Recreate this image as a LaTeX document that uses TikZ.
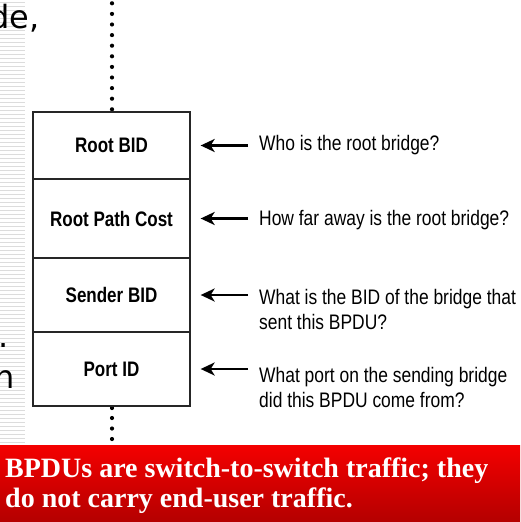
\documentclass[tikz,border=0pt]{standalone}
\usepackage{fontspec}
\setmainfont{Liberation Sans}
\newfontfamily\cellfont[FakeStretch=0.81]{Liberation Sans}
\newfontfamily\notefont[FakeStretch=0.83]{Liberation Sans}
\newfontfamily\bannerfont{Liberation Serif}
\newfontfamily\slidefont{DejaVu Sans}
\usetikzlibrary{arrows.meta}
\definecolor{bannertop}{HTML}{F40000}
\definecolor{bannerbottom}{HTML}{B40000}
\definecolor{stripe}{HTML}{DCDCDC}

\begin{document}
\begin{tikzpicture}[x=1pt,y=-1pt,
  field/.style={draw=black!85, line width=1.3pt, minimum width=157pt, inner sep=0pt,
    font=\cellfont\bfseries\fontsize{21}{23}\selectfont},
  question/.style={anchor=west, inner sep=0pt, align=left,
    font=\notefont\fontsize{21}{25}\selectfont},
  pointer/.style={-{Stealth[length=14pt,width=13pt,inset=4pt]}, line width=2.3pt,
    shorten <=11pt, shorten >=10pt},
  fragment/.style={anchor=base west, inner sep=0pt, font=\slidefont\fontsize{32}{38}\selectfont}
]
\useasboundingbox (0,0) rectangle (520,522);
\fill[white] (0,0) rectangle (520,522);

% ruled strip along the left edge
\foreach \k in {0,...,110}
  \draw[stripe, line width=1pt] (0,2.7+4*\k) -- (25,2.7+4*\k);

% pieces of neighbouring slide text
\node[fragment] (frag1) at (-11,28) {de,};
\node[fragment] (frag2) at (-1.5,347) {.};
\node[fragment] (frag3) at (-5.5,388) {h};

% dotted continuation of the frame
\foreach \k in {0,...,10}
  \fill (112,3.3+10.6*\k) circle (2.1pt);
\foreach \yy in {408,418,428.5,439}
  \fill (112,\yy) circle (2.1pt);

% BPDU fields
\node[field, minimum height=67pt] (rootbid)   at (111.5,145.5) {Root BID};
\node[field, minimum height=79pt] (pathcost)  at (111.5,218.5) {Root Path Cost};
\node[field, minimum height=74pt] (senderbid) at (111.5,295)   {Sender BID};
\node[field, minimum height=74pt] (portid)    at (111.5,369)   {Port ID};

% explanations
\node[question] (q1) at (259,145)   {Who is the root bridge?};
\node[question] (q2) at (259,220)   {How far away is the root bridge?};
\node[question] (q3) at (259,309.5) {What is the BID of the bridge that\\sent this BPDU?};
\node[question] (q4) at (259,387)   {What port on the sending bridge\\did this BPDU come from?};

\draw[pointer] (rootbid.east -| q1.west) -- (rootbid.east);
\draw[pointer] (pathcost.east -| q2.west) -- (pathcost.east);
\draw[pointer] (senderbid.east -| q3.west) -- (senderbid.east);
\draw[pointer] (portid.east -| q4.west) -- (portid.east);

% red banner
\shade[top color=bannertop, bottom color=bannerbottom] (0,445) rectangle (520,522);
\node[anchor=base west, inner sep=0pt, text=white, align=left,
  font=\bannerfont\bfseries\fontsize{28}{30}\selectfont] (banner) at (5,507)
  {BPDUs are switch-to-switch traffic; they\\do not carry end-user traffic.};
\end{tikzpicture}
\end{document}
